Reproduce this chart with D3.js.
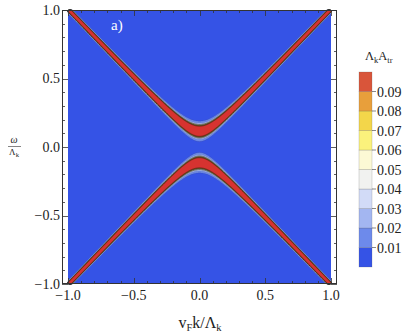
<!DOCTYPE html>
<html>
<head>
<meta charset="utf-8">
<script src="https://d3js.org/d3.v7.min.js"></script>
<style>
  body { margin: 0; background: #fff; }
  svg text { font-family: "Liberation Serif", "DejaVu Serif", serif; fill: #222; }
</style>
</head>
<body>
<svg width="406" height="332"></svg>
<script>
var svg = d3.select('svg');

// contour levels and their fill colours (index i = band above levels[i])
var levels = [0.01, 0.02, 0.03, 0.04, 0.05, 0.06, 0.07, 0.08, 0.09, 0.10];
var bandColors = ['#6d8aeb', '#a3b6f1', '#d2dbf7', '#f1f2f0', '#fcf9d5', '#fbf27c', '#f3d64a', '#e89f3b', '#d9553a', '#d63330'];
var baseColor = '#3553e6';
var legendLevels = [0.01, 0.02, 0.03, 0.04, 0.05, 0.06, 0.07, 0.08, 0.09];
var legendColors = ['#3553e6', '#6d8aeb', '#a3b6f1', '#d2dbf7', '#f1f2f0', '#fcf9d5', '#fbf27c', '#f3d64a', '#e89f3b', '#d9553a'];

// band parameters
var gap = 0.115;       // band edge at k = 0
var peak = 1.28;       // peak of Lambda_k A_tr (clipped to red)
var width0 = 0.0227;   // half width parameter at k = 0
var widthPow = 0.4;    // narrowing of the band with energy

var xTicks = [-1, -0.5, 0, 0.5, 1];
var yTicks = [-1, -0.5, 0, 0.5, 1];

// layout
var frame = {l: 62, r: 337, t: 10, b: 284};
var xScale = d3.scaleLinear().domain([-1, 1]).range([68, 331]);
var yScale = d3.scaleLinear().domain([-1, 1]).range([284, 10]);

function line(d, g) {
  var q = 1 + (d / g) * (d / g);
  return 1 / (q * q);
}

// field
var nx = 263, ny = 274;
var values = new Float64Array(nx * ny);
for (var j = 0; j < ny; j++) {
  var w = yScale.invert(frame.t + j + 0.5);
  for (var i = 0; i < nx; i++) {
    var k = xScale.invert(68 + i + 0.5);
    var E = Math.sqrt(k * k + gap * gap);
    var g = width0 * Math.pow(gap / E, widthPow);
    values[j * nx + i] = peak * (line(w - E, g) + line(w + E, g));
  }
}

var contours = d3.contours().size([nx, ny]).thresholds(levels)(values);

var plotG = svg.append('g');
plotG.append('rect')
  .attr('x', xScale(-1)).attr('y', yScale(1))
  .attr('width', xScale(1) - xScale(-1)).attr('height', yScale(-1) - yScale(1))
  .attr('fill', baseColor);

plotG.append('g')
  .attr('transform', 'translate(' + [xScale(-1), yScale(1)] + ')')
  .selectAll('path')
  .data(contours)
  .enter()
  .append('path')
  .attr('d', d3.geoPath())
  .attr('fill', function(d, i) { return bandColors[i]; })
  .attr('stroke', function(d, i) { return i < 3 ? 'rgba(60,70,120,0.3)' : 'rgba(20,20,10,0.6)'; })
  .attr('stroke-width', 0.7);

// frame
svg.append('rect')
  .attr('x', frame.l + 0.5).attr('y', frame.t + 0.5)
  .attr('width', frame.r - frame.l - 1).attr('height', frame.b - frame.t - 1)
  .attr('fill', 'none').attr('stroke', '#333').attr('stroke-width', 1);

// ticks on all four sides, pointing inward
var minorX = xScale.ticks(20), minorY = yScale.ticks(20);
var tickG = svg.append('g').attr('stroke', '#333').attr('stroke-width', 0.8);
minorX.forEach(function(v) {
  var major = xTicks.indexOf(v) >= 0;
  var len = major ? 6 : 3;
  var x = Math.round(xScale(v)) + 0.5;
  tickG.append('line').attr('x1', x).attr('x2', x).attr('y1', frame.b).attr('y2', frame.b - len);
  tickG.append('line').attr('x1', x).attr('x2', x).attr('y1', frame.t).attr('y2', frame.t + len);
});
minorY.forEach(function(v) {
  var major = yTicks.indexOf(v) >= 0;
  var len = major ? 6 : 3;
  var y = Math.round(yScale(v)) + 0.5;
  tickG.append('line').attr('x1', frame.l).attr('x2', frame.l + len).attr('y1', y).attr('y2', y);
  tickG.append('line').attr('x1', frame.r).attr('x2', frame.r - len).attr('y1', y).attr('y2', y);
});

var fmt = function(v) { return d3.format('.1f')(v).replace('-', '\u2212\u2009'); };

svg.append('g').selectAll('text')
  .data(xTicks).enter().append('text')
  .attr('x', function(d) { return xScale(d); })
  .attr('y', 300)
  .attr('text-anchor', 'middle')
  .attr('font-size', 14)
  .text(fmt);

svg.append('g').selectAll('text')
  .data(yTicks).enter().append('text')
  .attr('x', 60)
  .attr('y', function(d) { return yScale(d) + 4.5; })
  .attr('text-anchor', 'end')
  .attr('font-size', 14)
  .text(fmt);

// axis labels
var xl = svg.append('text').attr('x', 200).attr('y', 328).attr('text-anchor', 'middle').attr('font-size', 16);
xl.append('tspan').text('v');
xl.append('tspan').attr('font-size', 10.5).attr('dy', 3).text('F');
xl.append('tspan').attr('dy', -3).text('k/\u039b');
xl.append('tspan').attr('font-size', 10.5).attr('dy', 3).text('k');

svg.append('text').attr('x', 14).attr('y', 143).attr('text-anchor', 'middle')
  .attr('font-size', 10).attr('font-style', 'italic').text('\u03c9');
svg.append('line').attr('x1', 8).attr('x2', 21).attr('y1', 146.5).attr('y2', 146.5)
  .attr('stroke', '#333').attr('stroke-width', 0.6);
var yl = svg.append('text').attr('x', 14).attr('y', 155).attr('text-anchor', 'middle').attr('font-size', 9);
yl.append('tspan').text('\u039b');
yl.append('tspan').attr('font-size', 6.5).attr('dy', 2).text('k');

svg.append('text').attr('x', 111).attr('y', 30).attr('font-size', 15)
  .style('fill', '#fff').text('a)');

// legend
var legTop = 72, legH = 19.5, legX = 359, legW = 13;
var legendG = svg.append('g');
var nSw = legendColors.length;
legendG.selectAll('rect')
  .data(legendColors).enter().append('rect')
  .attr('x', legX)
  .attr('y', function(d, i) { return legTop + (nSw - 1 - i) * legH; })
  .attr('width', legW)
  .attr('height', legH)
  .attr('fill', function(d) { return d; })
  .attr('stroke', 'rgba(90,90,90,0.35)')
  .attr('stroke-width', 0.6);

legendG.selectAll('.lt')
  .data(legendLevels).enter().append('line')
  .attr('class', 'lt')
  .attr('x1', legX + legW).attr('x2', legX + legW + 4)
  .attr('y1', function(d, i) { return legTop + (nSw - 1 - i) * legH; })
  .attr('y2', function(d, i) { return legTop + (nSw - 1 - i) * legH; })
  .attr('stroke', '#555').attr('stroke-width', 0.7);

legendG.selectAll('text')
  .data(legendLevels).enter().append('text')
  .attr('x', legX + legW + 5)
  .attr('y', function(d, i) { return legTop + (nSw - 1 - i) * legH + 5; })
  .attr('font-size', 14)
  .text(function(d) { return d3.format('.2f')(d); });

var lt = svg.append('text').attr('x', 365).attr('y', 60).attr('font-size', 12.5);
lt.append('tspan').text('\u039b');
lt.append('tspan').attr('font-size', 8.5).attr('dy', 3).text('k');
lt.append('tspan').attr('dy', -3).text('A');
lt.append('tspan').attr('font-size', 8.5).attr('dy', 3).text('tr');
</script>
</body>
</html>
